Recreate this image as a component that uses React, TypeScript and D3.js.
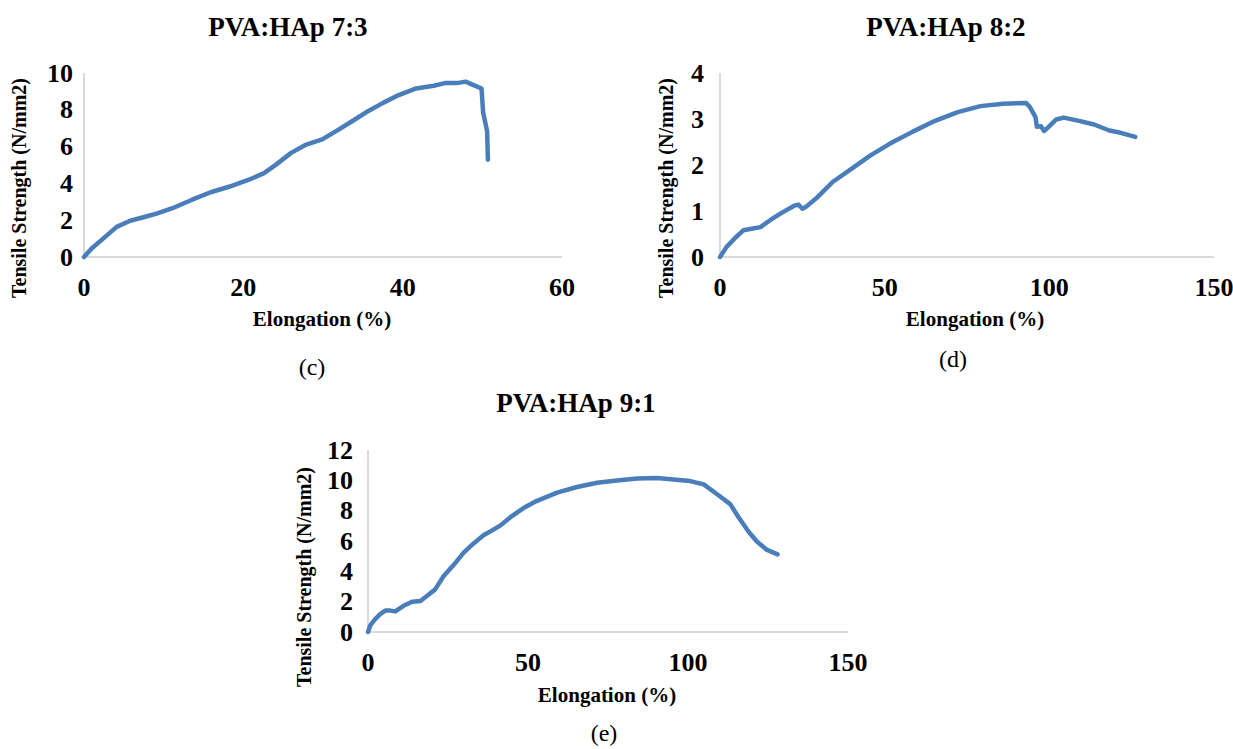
import * as d3 from "d3";

// PVA:HAp 7:3
const elong73 = [0, 0.96, 2.4, 4.1, 5.8, 7.7, 9.2, 11.1, 13.5, 15.9, 18.3, 20.7, 22.6, 24.1, 26.0, 27.9, 29.9, 31.8, 33.7, 35.7, 37.6, 39.5, 41.7, 43.9, 45.3, 46.8, 47.9, 48.9, 49.9, 50.1, 50.6, 50.7];
const tensile73 = [0, 0.46, 1.0, 1.64, 1.97, 2.19, 2.37, 2.65, 3.1, 3.52, 3.83, 4.2, 4.56, 5.02, 5.66, 6.11, 6.39, 6.88, 7.39, 7.94, 8.39, 8.8, 9.16, 9.31, 9.45, 9.45, 9.53, 9.34, 9.16, 7.85, 6.84, 5.29];

// PVA:HAp 8:2
const elong82 = [0, 2.0, 4.8, 7.1, 10.0, 12.3, 15.2, 18.7, 22.7, 23.8, 25.0, 26.1, 29.6, 34.2, 40.0, 45.7, 51.5, 58.4, 65.3, 72.2, 79.1, 86.0, 92.9, 94.1, 95.8, 96.2, 97.5, 98.4, 99.8, 102.1, 104.4, 109.0, 113.6, 118.2, 121.7, 126.1];
const tensile82 = [0, 0.22, 0.43, 0.58, 0.62, 0.65, 0.8, 0.96, 1.12, 1.14, 1.05, 1.09, 1.3, 1.63, 1.92, 2.21, 2.46, 2.72, 2.96, 3.15, 3.28, 3.33, 3.35, 3.26, 3.04, 2.83, 2.84, 2.74, 2.83, 2.99, 3.03, 2.96, 2.88, 2.75, 2.7, 2.61];

// PVA:HAp 9:1
const elong91 = [0, 0.7, 2.3, 3.9, 5.4, 7.0, 8.5, 11.1, 13.8, 16.4, 18.4, 21.0, 23.6, 26.8, 29.9, 33.0, 36.1, 38.8, 41.4, 44.5, 48.6, 52.8, 59.1, 65.3, 71.6, 77.8, 84.1, 90.3, 95.5, 100.7, 104.9, 109.1, 113.2, 115.8, 119.0, 121.6, 124.7, 128.0];
const tensile91 = [0, 0.43, 0.86, 1.19, 1.41, 1.41, 1.36, 1.73, 1.99, 2.05, 2.38, 2.81, 3.68, 4.43, 5.23, 5.84, 6.38, 6.7, 7.03, 7.57, 8.17, 8.65, 9.19, 9.56, 9.84, 9.99, 10.12, 10.16, 10.05, 9.95, 9.73, 9.08, 8.43, 7.57, 6.59, 5.95, 5.41, 5.12];

const ticksX73 = [0, 20, 40, 60];
const ticksY73 = [0, 2, 4, 6, 8, 10];
const ticksX150 = [0, 50, 100, 150];
const ticksY82 = [0, 1, 2, 3, 4];
const ticksY91 = [0, 2, 4, 6, 8, 10, 12];

const FONT = "Liberation Serif, Times New Roman, Times, serif";
const LINE = "#4a7ebb";
const AXIS = "#d9d9d9";

type PanelProps = {
  title: string;
  caption: string;
  xs: number[];
  ys: number[];
  xTicks: number[];
  yTicks: number[];
  left: number;
  right: number;
  top: number;
  bottom: number;
  titleX: number;
  titleY: number;
  xTitleX: number;
  xTitleY: number;
  yTitleX: number;
  yTitleY: number;
  capX: number;
  capY: number;
  yLabelGap: number;
};

function Panel(p: PanelProps) {
  const x = d3
    .scaleLinear()
    .domain([p.xTicks[0], p.xTicks[p.xTicks.length - 1]])
    .range([p.left, p.right]);
  const y = d3
    .scaleLinear()
    .domain([p.yTicks[0], p.yTicks[p.yTicks.length - 1]])
    .range([p.bottom, p.top]);
  const pts = p.xs.map((v, i) => [v, p.ys[i]] as [number, number]);
  const line = d3
    .line<[number, number]>()
    .x((d) => x(d[0]))
    .y((d) => y(d[1]));

  return (
    <g style={{ fontFamily: FONT }}>
      <text x={p.titleX} y={p.titleY} textAnchor="middle" dominantBaseline="central" fontSize={27} fontWeight="bold">
        {p.title}
      </text>
      <line x1={x.range()[0]} x2={x.range()[0]} y1={y.range()[1]} y2={y.range()[0]} stroke={AXIS} strokeWidth={2} />
      <line x1={x.range()[0]} x2={x.range()[1]} y1={y.range()[0]} y2={y.range()[0]} stroke={AXIS} strokeWidth={2} />
      {p.yTicks.map((t) => (
        <text key={"y" + t} x={p.left - p.yLabelGap} y={y(t)} textAnchor="end" dominantBaseline="central" fontSize={26} fontWeight="bold">
          {t}
        </text>
      ))}
      {p.xTicks.map((t) => (
        <text key={"x" + t} x={x(t)} y={p.bottom + 30} textAnchor="middle" dominantBaseline="central" fontSize={26} fontWeight="bold">
          {t}
        </text>
      ))}
      <path d={line(pts) || ""} fill="none" stroke={LINE} strokeWidth={4.5} strokeLinejoin="round" strokeLinecap="round" />
      <text x={p.xTitleX} y={p.xTitleY} textAnchor="middle" dominantBaseline="central" fontSize={21} fontWeight="bold">
        Elongation (%)
      </text>
      <text
        transform={`translate(${p.yTitleX},${p.yTitleY}) rotate(-90)`}
        textAnchor="middle"
        dominantBaseline="central"
        fontSize={20}
        fontWeight="bold"
      >
        Tensile Strength (N/mm2)
      </text>
      <text x={p.capX} y={p.capY} textAnchor="middle" dominantBaseline="central" fontSize={24}>
        {p.caption}
      </text>
    </g>
  );
}

export default function App() {
  return (
    <svg width={1233} height={749} style={{ display: "block", position: "absolute", left: 0, top: 0, background: "#fff" }}>
      <Panel
        title="PVA:HAp 7:3"
        caption="(c)"
        xs={elong73}
        ys={tensile73}
        xTicks={ticksX73}
        yTicks={ticksY73}
        left={84}
        right={562}
        top={73}
        bottom={257}
        titleX={288}
        titleY={27}
        xTitleX={322}
        xTitleY={319}
        yTitleX={19}
        yTitleY={188}
        capX={312}
        capY={367}
        yLabelGap={11}
      />
      <Panel
        title="PVA:HAp 8:2"
        caption="(d)"
        xs={elong82}
        ys={tensile82}
        xTicks={ticksX150}
        yTicks={ticksY82}
        left={720}
        right={1214}
        top={73}
        bottom={257}
        titleX={946}
        titleY={27}
        xTitleX={975}
        xTitleY={319}
        yTitleX={666}
        yTitleY={188}
        capX={953}
        capY={359}
        yLabelGap={16}
      />
      <Panel
        title="PVA:HAp 9:1"
        caption="(e)"
        xs={elong91}
        ys={tensile91}
        xTicks={ticksX150}
        yTicks={ticksY91}
        left={368}
        right={848}
        top={450}
        bottom={632}
        titleX={576}
        titleY={403}
        xTitleX={607}
        xTitleY={695}
        yTitleX={304}
        yTitleY={577}
        capX={604}
        capY={733}
        yLabelGap={15}
      />
    </svg>
  );
}
